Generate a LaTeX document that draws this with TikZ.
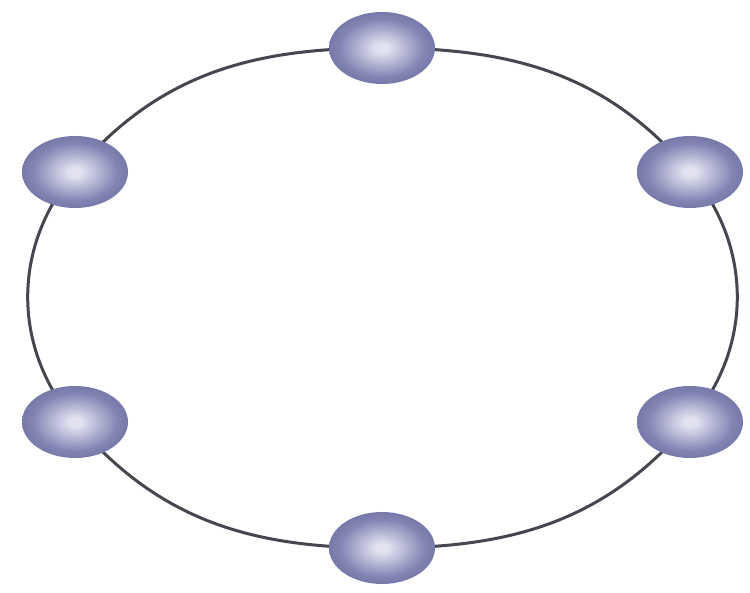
\documentclass[tikz,border=0pt]{standalone}
\usetikzlibrary{shapes.geometric}
\definecolor{hl}{RGB}{226,226,240}
\definecolor{mid}{RGB}{130,133,180}
\definecolor{edge}{RGB}{96,99,148}
\definecolor{ring}{RGB}{70,70,80}
\pgfdeclareradialshading{nodeball}{\pgfpoint{0bp}{0bp}}{color(0bp)=(hl); color(3bp)=(hl); color(20bp)=(mid); color(34bp)=(edge); color(50bp)=(edge)}
\pgfdeclarelayer{bg}
\pgfsetlayers{bg,main}
\tikzset{
  ringnode/.style={ellipse, minimum width=106pt, minimum height=72pt, inner sep=0pt, shading=nodeball},
  ringline/.style={draw=ring, line width=3pt}
}
\begin{document}
\begin{tikzpicture}[x=1pt,y=1pt]
\useasboundingbox (0,0) rectangle (750,592);
\node[ringnode] (t)  at (382,544) {};
\node[ringnode] (ul) at (75,420) {};
\node[ringnode] (ur) at (690,420) {};
\node[ringnode] (ll) at (75,170) {};
\node[ringnode] (lr) at (690,170) {};
\node[ringnode] (b)  at (382,44) {};
\begin{pgfonlayer}{bg}
\draw[ringline] (t.center) to[out=180,in=49.7] (ul.center);
\draw[ringline] (ul.center) to[out=229.7,in=130.3] (ll.center);
\draw[ringline] (ll.center) to[out=310.3,in=180] (b.center);
\draw[ringline] (b.center) to[out=0,in=229.7] (lr.center);
\draw[ringline] (lr.center) to[out=49.7,in=310.3] (ur.center);
\draw[ringline] (ur.center) to[out=130.3,in=0] (t.center);
\end{pgfonlayer}
\end{tikzpicture}
\end{document}
